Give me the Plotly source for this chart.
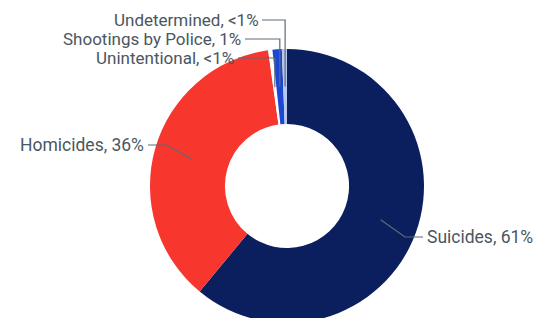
import math
import plotly.graph_objects as go

# ---- data ----
categories = ["Suicides", "Homicides", "Unintentional", "Shootings by Police", "Undetermined"]
shares = [61.0, 36.8, 0.5, 1.1, 0.6]
share_labels = ["61%", "36%", "<1%", "1%", "<1%"]

# ---- styling ----
colors = ["#0b1f5e", "#f7362e", "#ffffff", "#1b47d3", "#b7c7ef"]
W, H = 542, 318
OFF = 8                              # page body margin offset
CX, CY, R = 287 - OFF, 186 - OFF, 137   # pie centre / radius in px
HOLE = 0.453
TEXT_COLOR = "#4a5662"
LINE_COLOR = "#5f6b75"
FONT = "Roboto"
FONT_SIZE = 17.5
TOP_FONT_SIZE = 17

# label anchor (px, page coords): text anchor x, y, side, horizontal end, elbow
label_layout = {
    "Suicides":            dict(tx=426, ty=237, side="left",  hx=423, ex=405, ey=237, fs=FONT_SIZE),
    "Homicides":           dict(tx=145, ty=145, side="right", hx=148, ex=166, ey=145, fs=FONT_SIZE),
    "Unintentional":       dict(tx=235, ty=58,  side="right", hx=238, ex=None, ey=58, fs=TOP_FONT_SIZE),
    "Shootings by Police": dict(tx=242, ty=39,  side="right", hx=245, ex=None, ey=39, fs=TOP_FONT_SIZE),
    "Undetermined":        dict(tx=260, ty=20,  side="right", hx=262, ex=None, ey=20, fs=TOP_FONT_SIZE),
}

def px(x):
    return x / W

def py(y):
    return 1 - y / H

fig = go.Figure(go.Pie(
    labels=categories,
    values=shares,
    hole=HOLE,
    sort=False,
    direction="clockwise",
    rotation=0,
    marker=dict(colors=colors, line=dict(width=0)),
    textinfo="none",
    hoverinfo="label+percent",
    showlegend=False,
    domain=dict(x=[px(CX - R), px(CX + R)], y=[py(CY + R), py(CY - R)]),
))

total = sum(shares)
r_mid = (R * HOLE + R) / 2
cum = 0.0
shapes = []
annotations = []
for cat, val, lab in zip(categories, shares, share_labels):
    mid = (cum + val / 2) / total
    cum += val
    th = mid * 2 * math.pi
    sx = CX + r_mid * math.sin(th)
    sy = CY - r_mid * math.cos(th)
    L = label_layout[cat]
    ey = L["ey"] - OFF
    hx = L["hx"] - OFF
    if L["ex"] is None:
        pts = [(sx, sy), (sx, ey), (hx, ey)]
    else:
        pts = [(sx, sy), (L["ex"] - OFF, ey), (hx, ey)]
    path = "M " + " L ".join(f"{px(a):.5f},{py(b):.5f}" for a, b in pts)
    shapes.append(dict(type="path", xref="paper", yref="paper", path=path,
                       line=dict(color=LINE_COLOR, width=1.2)))
    annotations.append(dict(
        x=px(L["tx"] - OFF), y=py(L["ty"] - OFF), xref="paper", yref="paper",
        text=f"{cat}, {lab}", showarrow=False,
        xanchor="left" if L["side"] == "left" else "right", yanchor="middle",
        font=dict(family=FONT, size=L["fs"], color=TEXT_COLOR),
        borderpad=0,
    ))

fig.update_layout(
    width=W, height=H,
    margin=dict(l=0, r=0, t=0, b=0),
    paper_bgcolor="white",
    plot_bgcolor="white",
    shapes=shapes,
    annotations=annotations,
)

fig.write_html("out.html")
